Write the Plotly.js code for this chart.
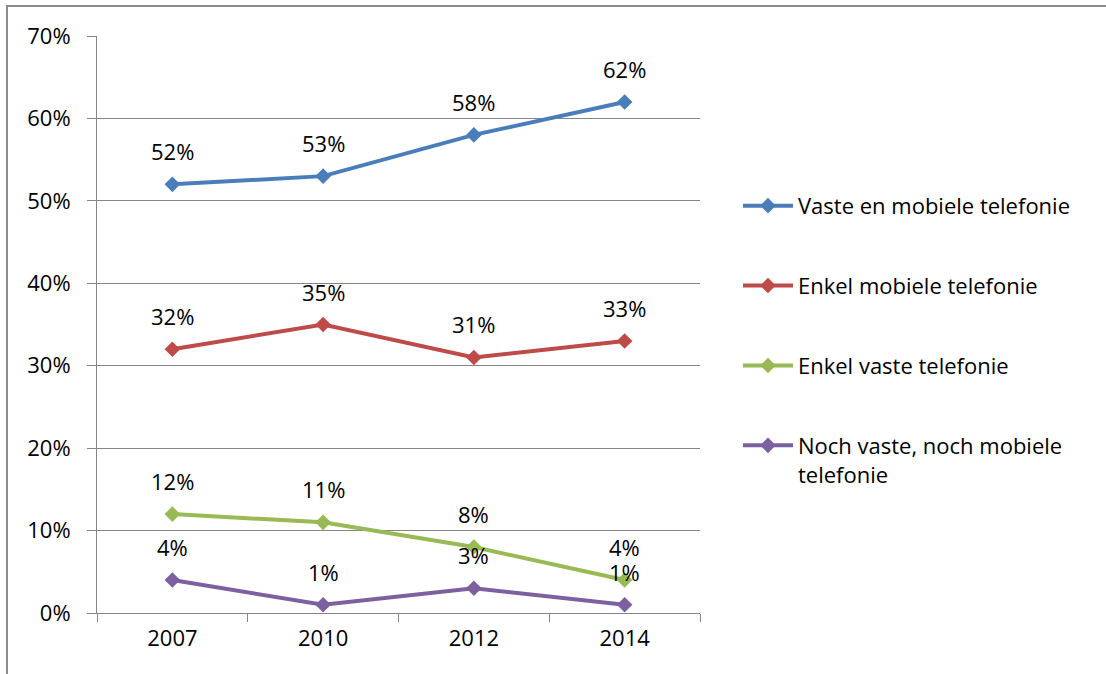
<!DOCTYPE html>
<html><head><meta charset="utf-8">
<script src="https://cdn.plot.ly/plotly-3.0.1.min.js"></script>
<style>
html,body{margin:0;padding:0;background:#fff;}
#chart{width:1106px;height:674px;position:absolute;left:0;top:0;}
#frame{position:absolute;left:6px;top:5px;width:1100px;height:669px;border-left:2px solid #8c8c8c;border-top:2px solid #8c8c8c;pointer-events:none;}
</style></head>
<body>
<div id="chart"></div>
<div id="frame"></div>
<script>
const years = ['2007','2010','2012','2014'];
const seriesNames = ['Vaste en mobiele telefonie','Enkel mobiele telefonie','Enkel vaste telefonie','Noch vaste, noch mobiele<br>telefonie'];
const vasteEnMobiel = [0.52,0.53,0.58,0.62];
const enkelMobiel = [0.32,0.35,0.31,0.33];
const enkelVast = [0.12,0.11,0.08,0.04];
const geen = [0.04,0.01,0.03,0.01];
const colors = ['#4A7EBB','#BE4B48','#98B954','#7D60A0'];

const allSeries = [vasteEnMobiel,enkelMobiel,enkelVast,geen];
const FONT = 'Open Sans, Liberation Sans, sans-serif';
const FS = 22;

const traces = allSeries.map((vals,i)=>({
  x: years, y: vals, type:'scatter', mode:'lines+markers',
  name: seriesNames[i], legendgroup:'g'+i,
  line:{color:colors[i], width:4},
  marker:{symbol:'diamond', size:12, color:colors[i]},
  hoverinfo:'skip'
}));

const annotations = [];
allSeries.forEach((vals,i)=>{
  vals.forEach((v,j)=>{
    annotations.push({x:j, y:v, xref:'x', yref:'y', text:Math.round(v*100)+'%',
      showarrow:false, yshift:33, borderpad:0, font:{family:FONT, size:FS, color:'#000'}});
  });
});

const layout = {
  width:1106, height:674,
  margin:{l:97, r:406, t:36, b:61},
  paper_bgcolor:'#fff', plot_bgcolor:'#fff',
  font:{family:FONT, size:FS, color:'#000'},
  showlegend:true,
  legend:{x:1.063, xanchor:'left', y:0.742, yanchor:'top', tracegroupgap:48.3,
    font:{family:FONT, size:FS, color:'#000'}, itemwidth:50, valign:'top', itemclick:false, bgcolor:'rgba(0,0,0,0)'},
  xaxis:{type:'category', range:[-0.5,3.5], showgrid:false, showline:true, linecolor:'#868686', linewidth:1,
    ticks:'outside', tickson:'boundaries', ticklen:8, tickcolor:'#868686', tickwidth:1,
    ticklabelstandoff:6, tickfont:{family:FONT, size:FS, color:'#000'}, zeroline:false, fixedrange:true},
  yaxis:{range:[0,0.7], dtick:0.1, tickformat:'.0%', showgrid:true, gridcolor:'#868686', gridwidth:1,
    showline:true, linecolor:'#868686', linewidth:1, ticks:'outside', ticklen:9, tickcolor:'#868686', tickwidth:1,
    ticklabelstandoff:12, tickfont:{family:FONT, size:FS, color:'#000'}, zeroline:false, fixedrange:true},
  annotations: annotations
};

Plotly.newPlot('chart', traces, layout, {displayModeBar:false, staticPlot:true});
</script>
</body></html>
